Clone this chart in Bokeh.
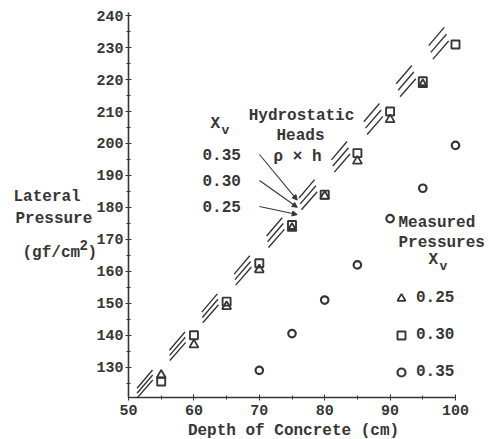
import math
from bokeh.plotting import figure
from bokeh.models import (Label, Arrow, NormalHead, Legend, LegendItem,
                          SingleIntervalTicker, Range1d, LinearAxis)
from bokeh.embed import file_html
from bokeh.resources import INLINE

# ---------------- data ----------------
depth_030 = [55, 60, 65, 70, 75, 80, 85, 90, 95, 100]
press_030 = [125.5, 140, 150.5, 162.5, 174.5, 184, 197, 210, 219.5, 231]
depth_025 = [55, 60, 65, 70, 75, 80, 85, 90, 95]
press_025 = [127.5, 137, 149, 160.5, 173.5, 183.5, 194.5, 207.5, 218.5]
depth_035 = [70, 75, 80, 85, 90, 95, 100]
press_035 = [129, 140.5, 151, 162, 176.5, 186, 199.4]

hydro_xv = ["0.35", "0.30", "0.25"]
hydro_rho = [2.405, 2.375, 2.345]          # gf/cm^3, hydrostatic head slopes
hydro_depth = [51.3, 100]
arrow_depth = 75.8

legend_xv = ["0.25", "0.30", "0.35"]
x_ticks = [50, 60, 70, 80, 90, 100]
y_ticks = [130, 140, 150, 160, 170, 180, 190, 200, 210, 220, 230, 240]

# ---------------- layout ----------------
W, H = 489, 439
X0, X1 = 50, 100          # x axis extent
Y0, Y1 = 120.5, 241       # y axis extent
AX_L, AX_R = 128, 455     # pixel position of the x axis ends
AX_T, AX_B = 12, 397      # pixel position of the y axis ends
INK = "#363636"
FONT = "Liberation Mono"

sx = (AX_R - AX_L) / (X1 - X0)
sy = (AX_B - AX_T) / (Y1 - Y0)

def dx(px):   # pixel -> data x
    return X0 + (px - AX_L) / sx

def dy(py):   # pixel -> data y
    return Y1 - (py - AX_T) / sy

p = figure(width=W, height=H, output_backend="svg", toolbar_location=None,
           x_range=Range1d(dx(0), dx(W)), y_range=Range1d(dy(H), dy(0)),
           x_axis_type=None, y_axis_type=None,
           min_border_left=0, min_border_top=0, min_border_right=0,
           min_border_bottom=0)
p.outline_line_color = None
p.background_fill_color = "white"
p.border_fill_color = "white"

xaxis = LinearAxis(fixed_location=Y0, bounds=(X0, X1))
yaxis = LinearAxis(fixed_location=X0, bounds=(Y0, Y1))
for ax in (xaxis, yaxis):
    ax.ticker = SingleIntervalTicker(interval=10, num_minor_ticks=2)
    ax.axis_line_color = INK
    ax.axis_line_width = 1.6
    ax.major_tick_line_color = INK
    ax.minor_tick_line_color = INK
    ax.major_tick_in = 3
    ax.major_tick_out = 3
    ax.minor_tick_in = 2
    ax.minor_tick_out = 2
    ax.major_label_text_font = FONT
    ax.major_label_text_font_style = "bold"
    ax.major_label_text_font_size = "15px"
    ax.major_label_text_color = INK
yaxis.major_label_standoff = 2
xaxis.major_label_standoff = 4
p.add_layout(xaxis, "below")
p.add_layout(yaxis, "left")

# ---------------- hydrostatic heads ----------------
for rho in hydro_rho:
    L = math.hypot(sx, rho * sy)
    dash = f"{round(2.4 * L)} {round(2.6 * L)}"
    p.line(hydro_depth, [rho * d for d in hydro_depth], line_color=INK,
           line_width=1.4, line_dash=dash)

# ---------------- measured ----------------
r_tri = p.scatter(depth_025, press_025, marker="triangle", size=9,
                  line_color=INK, fill_color=None, line_width=1.8)
r_sq = p.scatter(depth_030, press_030, marker="square", size=8,
                 line_color=INK, fill_color=None, line_width=1.9)
r_ci = p.scatter(depth_035, press_035, marker="circle", size=7.5,
                 line_color=INK, fill_color=None, line_width=2.2)

legend = Legend(items=[LegendItem(label=legend_xv[0], renderers=[r_tri]),
                       LegendItem(label=legend_xv[1], renderers=[r_sq]),
                       LegendItem(label=legend_xv[2], renderers=[r_ci])],
                location=(391, H - 382), padding=0, margin=0, spacing=17,
                glyph_height=20, glyph_width=20, label_standoff=5,
                background_fill_alpha=0, border_line_color=None,
                label_text_font=FONT, label_text_font_style="bold",
                label_text_font_size="16px", label_text_color=INK)
p.add_layout(legend)

# ---------------- text ----------------
def lab(px, py, text, size="16px", align="left"):
    p.add_layout(Label(x=dx(px), y=dy(py), text=text, text_align=align,
                       text_baseline="middle", text_font=FONT,
                       text_font_style="bold", text_font_size=size,
                       text_color=INK))

lab(13, 196, "Lateral")
lab(15, 218, "Pressure")
lab(22, 252, "(gf/cm")
lab(79, 244, "2", size="14px")
lab(87, 252, ")")

lab(210, 123, "X")
lab(221, 130, "v", size="13px")
for xv, py in zip(hydro_xv, [154, 180, 206]):
    lab(202, py, xv)

lab(301, 115, "Hydrostatic", align="center")
lab(300, 135, "Heads", align="center")
lab(297, 156, "ρ × h", align="center")

lab(398, 222, "Measured")
lab(398, 242, "Pressures")
lab(428, 259, "X")
lab(439, 266, "v", size="13px")

lab(293, 430, "Depth of Concrete (cm)", align="center")

for rho, py in zip(hydro_rho, [154, 180, 206]):
    p.add_layout(Arrow(x_start=dx(259), y_start=dy(py), x_end=arrow_depth,
                       y_end=rho * arrow_depth, line_color=INK, line_width=1.1,
                       end=NormalHead(size=5, line_color=INK, fill_color=INK,
                                      line_width=1)))

open("out.html", "w").write(file_html(p, INLINE))
